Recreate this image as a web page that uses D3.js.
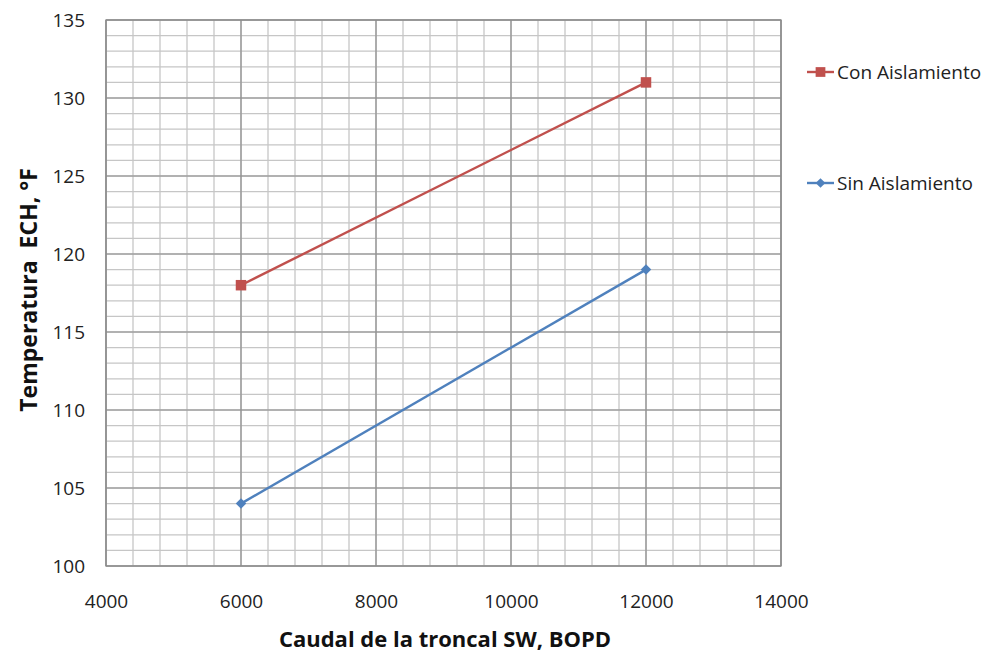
<!DOCTYPE html>
<html>
<head>
<meta charset="utf-8">
<script src="https://cdn.jsdelivr.net/npm/d3@7"></script>
<style>
  html, body { margin: 0; padding: 0; background: #fff; }
  svg { display: block; font-family: "Open Sans", "Liberation Sans", sans-serif; }
</style>
</head>
<body>
<svg id="chart" width="992" height="659"></svg>
<script>
// Caudal de la troncal SW (BOPD) vs temperatura ECH (°F)
const caudal = [6000, 12000];
const conAislamiento = [118, 131];
const sinAislamiento = [104, 119];
const seriesNames = ["Con Aislamiento", "Sin Aislamiento"];
const xTicks = [4000, 6000, 8000, 10000, 12000, 14000];
const yTicks = [100, 105, 110, 115, 120, 125, 130, 135];

const svg = d3.select("#chart");
const plotL = 106, plotR = 781, plotT = 20, plotB = 566;

const x = d3.scaleLinear().domain([4000, 14000]).range([plotL, plotR]);
const y = d3.scaleLinear().domain([100, 135]).range([plotB, plotT]);

// minor grid
const g = svg.append("g");
g.selectAll("line.vminor").data(d3.range(4000, 14001, 400)).join("line")
  .attr("x1", d => x(d)).attr("x2", d => x(d)).attr("y1", plotT).attr("y2", plotB)
  .attr("stroke", "#c6c6c6").attr("stroke-width", 1.3);
g.selectAll("line.hminor").data(d3.range(100, 135.5, 1)).join("line")
  .attr("y1", d => y(d)).attr("y2", d => y(d)).attr("x1", plotL).attr("x2", plotR)
  .attr("stroke", "#c6c6c6").attr("stroke-width", 1.3);
// major grid
g.selectAll("line.vmajor").data(xTicks).join("line")
  .attr("x1", d => x(d)).attr("x2", d => x(d)).attr("y1", plotT).attr("y2", plotB)
  .attr("stroke", "#8e8e8e").attr("stroke-width", 1.2);
g.selectAll("line.hmajor").data(yTicks).join("line")
  .attr("y1", d => y(d)).attr("y2", d => y(d)).attr("x1", plotL).attr("x2", plotR)
  .attr("stroke", "#8e8e8e").attr("stroke-width", 1.2);
g.append("rect").attr("x", plotL).attr("y", plotT).attr("width", plotR - plotL).attr("height", plotB - plotT)
  .attr("fill", "none").attr("stroke", "#8a8a8a").attr("stroke-width", 1.3);

// axis tick labels
const xAxis = svg.append("g").attr("transform", `translate(0,${plotB})`)
  .call(d3.axisBottom(x).tickValues(xTicks).tickSize(0).tickPadding(29).tickFormat(d3.format("d")));
const yAxis = svg.append("g").attr("transform", `translate(${plotL},0)`)
  .call(d3.axisLeft(y).tickValues(yTicks).tickSize(0).tickPadding(21).tickFormat(d3.format("d")));
[xAxis, yAxis].forEach(a => {
  a.select(".domain").remove();
  a.selectAll("text").attr("font-size", 19).attr("fill", "#222")
    .attr("font-family", "'Open Sans', 'Liberation Sans', sans-serif");
});

// axis titles
svg.append("text").attr("x", 445).attr("y", 647).attr("text-anchor", "middle")
  .attr("font-size", 22).attr("font-weight", "bold").attr("fill", "#111")
  .text("Caudal de la troncal SW, BOPD");
svg.append("text").attr("transform", "translate(37,290) rotate(-90)").attr("text-anchor", "middle")
  .attr("font-size", 23).attr("font-weight", "bold").attr("fill", "#111")
  .style("white-space", "pre")
  .text("Temperatura  ECH, °F");

// series
const series = [
  { name: seriesNames[0], values: conAislamiento, color: "#C0504D", marker: "square" },
  { name: seriesNames[1], values: sinAislamiento, color: "#4F81BD", marker: "diamond" }
];
const line = d3.line().x(d => x(d[0])).y(d => y(d[1]));
const symbolOf = m => m === "square" ? d3.symbol(d3.symbolSquare, 110) : d3.symbol(d3.symbolDiamond2, 70);

series.forEach(s => {
  const pts = caudal.map((c, i) => [c, s.values[i]]);
  svg.append("path").datum(pts).attr("d", line)
    .attr("fill", "none").attr("stroke", s.color).attr("stroke-width", 2.4);
  svg.selectAll(null).data(pts).join("path")
    .attr("transform", d => `translate(${x(d[0])},${y(d[1])})`)
    .attr("d", symbolOf(s.marker)).attr("fill", s.color);
});

// legend
const legendY = [72, 183];
series.forEach((s, i) => {
  const lg = svg.append("g").attr("transform", `translate(807,${legendY[i]})`);
  lg.append("line").attr("x1", 0).attr("x2", 27).attr("stroke", s.color).attr("stroke-width", 2.4);
  lg.append("path").attr("transform", "translate(13.5,0)").attr("d",
    s.marker === "square" ? d3.symbol(d3.symbolSquare, 95)() : d3.symbol(d3.symbolDiamond2, 60)())
    .attr("fill", s.color);
  lg.append("text").attr("x", 30).attr("y", 0).attr("dy", "0.35em")
    .attr("font-size", 19).attr("fill", "#222").text(s.name);
});
</script>
</body>
</html>
